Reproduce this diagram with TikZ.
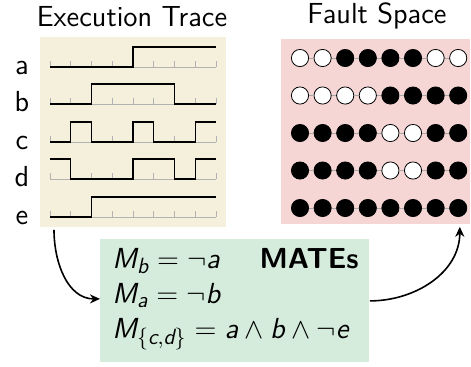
\documentclass[tikz,border=0pt]{standalone}
\usepackage{fontspec}
\usepackage{amsmath}
\usetikzlibrary{arrows.meta}
\DeclareMathSizes{14.5}{14.5}{11}{8}
\definecolor{tracebg}{HTML}{F5F0DC}
\definecolor{faultbg}{HTML}{F6D5D5}
\definecolor{matebg}{HTML}{D5ECDD}
\newcommand{\sv}[1]{\textsf{\itshape #1}}
\tikzset{
  panel/.style={inner sep=0pt, anchor=north west},
  axis/.style={gray!60, line width=0.4pt},
  wave/.style={black, line width=0.7pt},
  link/.style={gray!70, line width=0.5pt},
  bit0/.style={circle, draw=black, line width=0.4pt, fill=white, minimum size=8.6pt, inner sep=0pt},
  bit1/.style={bit0, fill=black},
  flow/.style={-{Stealth[length=5pt, width=4.5pt]}, line width=0.8pt}
}
\begin{document}
\begin{tikzpicture}[x=0.5pt, y=-0.5pt, font=\sffamily\fontsize{14.5}{17}\selectfont]
    \useasboundingbox (0,0) rectangle (471,366);
    % panels
    \node[panel, fill=tracebg, minimum width=93pt, minimum height=95pt] (trace) at (40,37) {};
    \node[panel, fill=faultbg, minimum width=94.5pt, minimum height=92.5pt] (fault) at (281,39) {};
    \node[panel, fill=matebg, minimum width=134.5pt, minimum height=61.5pt] (mates) at (100,239) {};
    \node[anchor=base] (title-trace) at (132,26) {Execution Trace};
    \node[anchor=base] (title-fault) at (377,23) {Fault Space};
    % signals
    \foreach \sig/\yy/\wave in {a/67/{(0,0) -| (4,1) -- (8,1)},
                                b/104/{(0,0) -| (2,1) -| (6,0) -- (8,0)},
                                c/142/{(0,0) -| (1,1) -| (2,0) -| (4,1) -| (5,0) -| (7,1) -- (8,1)},
                                d/179/{(0,1) -| (1,0) -| (4,1) -| (6,0) -| (7,1) -- (8,1)},
                                e/217/{(0,0) -| (2,1) -- (8,1)}} {
      \begin{scope}[shift={(50,\yy)}, x=10.375pt, y=10pt]
        \draw[axis] (0,0) -- (8,0);
        \foreach \t in {0,...,8}
          \draw[axis] (\t,0) -- (\t,0.3);
        \draw[wave] \wave;
        \node[anchor=base] (lbl-\sig) at (-1.35,-0.35) {\sig};
      \end{scope}
    }
    % fault space
    \foreach \row/\yy/\bits in {1/58/{0,0,1,1,1,1,0,0},
                                2/95.5/{0,0,0,0,1,1,1,1},
                                3/133/{1,1,1,1,0,0,1,1},
                                4/170.5/{1,1,1,1,0,0,1,1},
                                5/208/{1,1,1,1,1,1,1,1}} {
      \foreach \b [count=\i, remember=\i as \prev (initially 0)] in \bits {
        \node[bit\b] (f\row-\i) at ({300+(\i-1)*22.6},\yy) {};
        \ifnum\i>1 \draw[link] (f\row-\prev) -- (f\row-\i); \fi
      }
    }
    % MATEs
    \node[anchor=base west, inner sep=0pt] (eq-b) at (112,268) {$\sv{M}_{\sv{b}} = \neg\sv{a}$};
    \node[anchor=base west, inner sep=0pt] (eq-a) at (112,303) {$\sv{M}_{\sv{a}} = \neg\sv{b}$};
    \node[anchor=base west, inner sep=0pt] (eq-cd) at (112,338) {$\sv{M}_{\{\sv{c},\sv{d}\}} = \sv{a} \wedge \sv{b} \wedge \neg\sv{e}$};
    \node[anchor=base east, inner sep=0pt] (title-mates) at (359,268) {\textbf{MATEs}};
    \draw[flow] ([xshift=7pt, yshift=-1pt]trace.south west) to[out=-90, in=180] ([yshift=1pt]mates.west);
    \draw[flow] (mates.east) to[out=0, in=-90] ([xshift=-5.5pt, yshift=-1pt]fault.south east);
\end{tikzpicture}
\end{document}
